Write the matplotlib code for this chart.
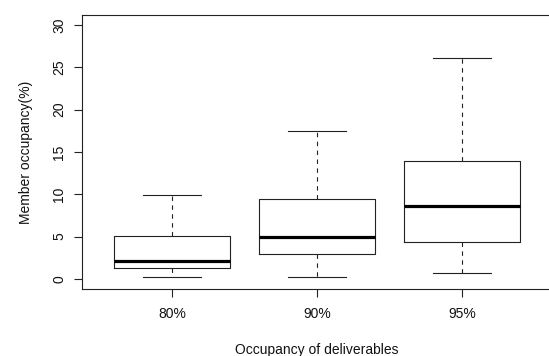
import matplotlib
matplotlib.use('Agg')
import matplotlib.pyplot as plt

# five-number summaries
groups = ['80%', '90%', '95%']
whislo = [0.2, 0.27, 0.67]
q1 = [1.3, 2.9, 4.33]
med = [2.1, 5.0, 8.62]
q3 = [5.1, 9.4, 13.97]
whishi = [9.85, 17.5, 26.07]

yticks = [0, 5, 10, 15, 20, 25, 30]

plt.rcParams['font.family'] = ['Liberation Sans', 'DejaVu Sans']

fig = plt.figure(figsize=(5.49, 3.56), dpi=100)
ax = fig.add_axes([82/549, 67/356, 470/549, 274.2/356])

stats = []
for i, g in enumerate(groups):
    stats.append(dict(label=g, whislo=whislo[i], q1=q1[i], med=med[i],
                      q3=q3[i], whishi=whishi[i], fliers=[]))

ax.bxp(stats, positions=[1, 2, 3], widths=0.8, showfliers=False,
       boxprops=dict(color='#222222', linewidth=0.8),
       medianprops=dict(color='black', linewidth=2.3, solid_capstyle='butt'),
       whiskerprops=dict(color='#222222', linewidth=0.8, linestyle=(0, (4, 4))),
       capprops=dict(color='#222222', linewidth=0.8),
       capwidths=0.4)

ax.set_xlim(0.38, 3.62)
ax.set_ylim(-1.2, 31.2)
ax.set_yticks(yticks)
ax.set_yticklabels([str(v) for v in yticks], rotation=90, va='center')
ax.set_xticks([1, 2, 3])
ax.set_xticklabels(groups)

for s in ax.spines.values():
    s.set_linewidth(0.8)
    s.set_color('#222222')

ax.tick_params(axis='both', direction='out', length=6, width=0.8,
               color='#222222', labelsize=10, labelcolor='#111111')
ax.tick_params(axis='x', pad=7)
ax.tick_params(axis='y', pad=5.5)

ax.set_xlabel('Occupancy of deliverables', fontsize=10, labelpad=15.5, color='#111111')
ax.set_ylabel('Member occupancy(%)', fontsize=10, labelpad=14, color='#111111')

fig.savefig('out.png', dpi=100)
